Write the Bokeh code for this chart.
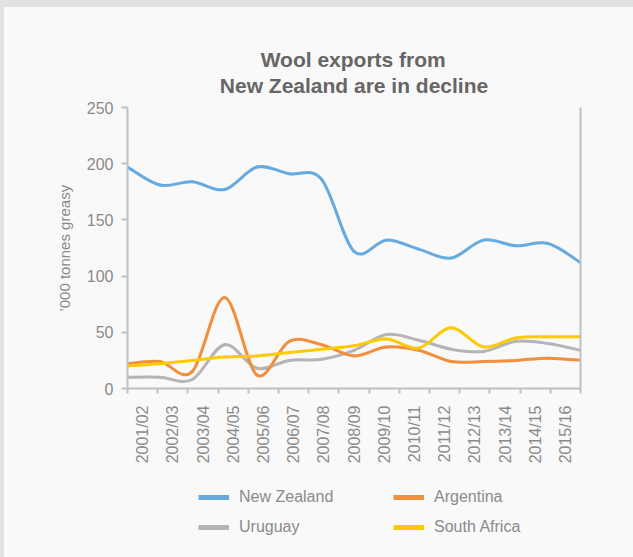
import numpy as np
from bokeh.plotting import figure
from bokeh.models import (Range1d, FixedTicker, LinearAxis, Legend, LegendItem)
from bokeh.layouts import column
from bokeh.embed import file_html
from bokeh.resources import INLINE
from math import pi

# ---------------- data ----------------
seasons = ["2001/02", "2002/03", "2003/04", "2004/05", "2005/06", "2006/07", "2007/08",
           "2008/09", "2009/10", "2010/11", "2011/12", "2012/13", "2013/14", "2014/15", "2015/16"]
new_zealand = [197, 181, 184, 177, 197, 191, 186, 122, 132, 124, 116, 132, 127, 129, 112]
argentina = [22, 24, 15, 81, 12, 42, 39, 29, 37, 34, 24, 24, 25, 27, 25]
uruguay = [10, 10, 8, 39, 18, 25, 26, 34, 48, 43, 35, 33, 42, 40, 34]
south_africa = [20, 22, 25, 28, 29, 32, 35, 38, 44, 36, 54, 37, 45, 46, 46]

series_names = ["New Zealand", "Argentina", "Uruguay", "South Africa"]
y_ticks = [0, 50, 100, 150, 200, 250]
title_lines = ["Wool exports from", "New Zealand are in decline"]

# ---------------- styles ----------------
C_NZ = "#66aadf"
C_AR = "#f28e3c"
C_UY = "#b4b4b4"
C_SA = "#fdca00"
TXT = "#8a8a8a"
AXC = "#c0c0c0"
FONT = "Liberation Sans"
BG = "#f9f9f9"

n = len(seasons)
# data points spread across the full frame; season labels sit between tick marks
xs = [i * n / (n - 1) for i in range(n)]

p = figure(width=629, height=470, x_range=Range1d(0, n), y_range=Range1d(0, 250),
           output_backend="svg", toolbar_location=None,
           min_border_left=123, min_border_right=53, min_border_top=100, min_border_bottom=89,
           background_fill_color=BG, border_fill_color=BG, outline_line_color=None)
p.margin = (7, 0, 0, 4)
p.xgrid.visible = False
p.ygrid.visible = False


def smooth(x, y):
    x = np.asarray(x, float)
    y = np.asarray(y, float)
    xp = np.concatenate([[x[0]], x, [x[-1]]])
    yp = np.concatenate([[y[0]], y, [y[-1]]])
    m = len(x)
    return dict(
        x0=x[:-1], y0=y[:-1], x1=x[1:], y1=y[1:],
        cx0=x[:-1] + (xp[2:m + 1] - xp[0:m - 1]) / 6,
        cy0=y[:-1] + (yp[2:m + 1] - yp[0:m - 1]) / 6,
        cx1=x[1:] - (xp[3:m + 2] - xp[1:m]) / 6,
        cy1=y[1:] - (yp[3:m + 2] - yp[1:m]) / 6,
    )


for vals, col in [(new_zealand, C_NZ), (uruguay, C_UY), (argentina, C_AR), (south_africa, C_SA)]:
    p.bezier(**smooth(xs, vals), line_color=col, line_width=3, line_cap="round")

# ---------------- axes ----------------
xa = p.xaxis[0]
xa.ticker = FixedTicker(ticks=[i + 0.5 for i in range(n)], minor_ticks=list(range(n + 1)))
xa.major_label_overrides = {i + 0.5: s for i, s in enumerate(seasons)}
xa.major_label_orientation = pi / 2
xa.major_tick_line_color = None
xa.major_tick_out = 0
xa.major_tick_in = 0
xa.minor_tick_out = 5
xa.minor_tick_in = 0
xa.minor_tick_line_color = AXC
xa.minor_tick_line_width = 2
xa.axis_line_color = AXC
xa.axis_line_width = 2
xa.major_label_standoff = 12
xa.major_label_text_font = FONT
xa.major_label_text_font_size = "16px"
xa.major_label_text_color = TXT

ya = p.yaxis[0]
ya.ticker = FixedTicker(ticks=y_ticks, minor_ticks=[])
ya.major_tick_out = 6
ya.major_tick_in = 0
ya.major_tick_line_color = AXC
ya.major_tick_line_width = 2
ya.minor_tick_line_color = None
ya.axis_line_color = AXC
ya.axis_line_width = 2
ya.major_label_standoff = 8
ya.major_label_text_font = FONT
ya.major_label_text_font_size = "16px"
ya.major_label_text_color = TXT
ya.axis_label = "'000 tonnes greasy"
ya.axis_label_text_font = FONT
ya.axis_label_text_font_size = "15px"
ya.axis_label_text_font_style = "normal"
ya.axis_label_text_color = TXT
ya.axis_label_standoff = 11

ra = LinearAxis(ticker=FixedTicker(ticks=[], minor_ticks=[]), axis_line_color=AXC, axis_line_width=2,
                major_tick_line_color=None, minor_tick_line_color=None,
                major_label_text_font_size="0px")
p.add_layout(ra, "right")

# ---------------- title (one two-line title; short line indented so it looks centred) ----------------
p.title.text = "\u00a0" * 7 + title_lines[0] + "\n" + title_lines[1]
p.title.align = "center"
p.title.text_font = FONT
p.title.text_font_size = "21px"
p.title.text_font_style = "bold"
p.title.text_color = "#666666"
p.title.text_line_height = 1.15
p.title.standoff = 20

# ---------------- legend (in its own strip below the chart) ----------------
lf = figure(width=629, height=80, x_range=Range1d(0, 1), y_range=Range1d(0, 1),
            output_backend="svg", toolbar_location=None,
            x_axis_location=None, y_axis_location=None,
            min_border=0, background_fill_alpha=0, border_fill_alpha=0, outline_line_color=None)
lf.margin = (0, 0, 0, 4)
lf.xgrid.visible = False
lf.ygrid.visible = False

nan = np.array([np.nan])
r_nz = lf.line(x=nan, y=nan, line_color=C_NZ, line_width=5)
r_ar = lf.line(x=nan, y=nan, line_color=C_AR, line_width=5)
r_uy = lf.line(x=nan, y=nan, line_color=C_UY, line_width=5)
r_sa = lf.line(x=nan, y=nan, line_color=C_SA, line_width=5)


def mk_legend(items, loc):
    lg = Legend(items=items, location=loc, orientation="vertical",
                glyph_width=31, glyph_height=20, label_height=20, label_standoff=10,
                spacing=10, padding=0, margin=0,
                background_fill_alpha=0, border_line_alpha=0,
                label_text_font=FONT, label_text_font_size="16px", label_text_color=TXT)
    lf.add_layout(lg)


mk_legend([LegendItem(label=series_names[0], renderers=[r_nz]),
           LegendItem(label=series_names[2], renderers=[r_uy])], (71, 20))
mk_legend([LegendItem(label=series_names[1], renderers=[r_ar]),
           LegendItem(label=series_names[3], renderers=[r_sa])], (266, 20))

root = column(p, lf, spacing=0,
              styles={"background-color": BG, "box-shadow": "inset 4px 7px 0 0 #e2e2e2"})

open("out.html", "w").write(file_html(root, INLINE))
